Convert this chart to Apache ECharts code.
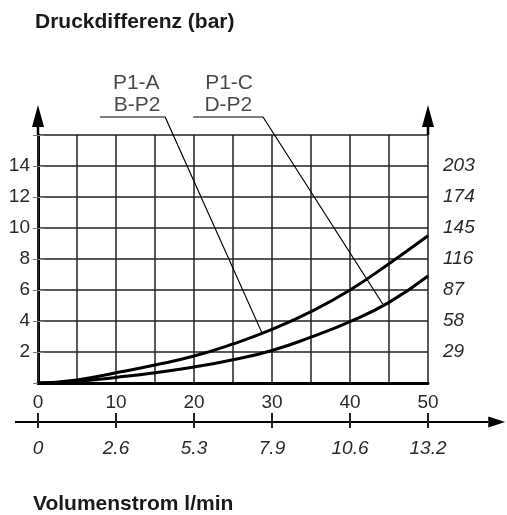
<!DOCTYPE html>
<html>
<head>
<meta charset="utf-8">
<script src="https://cdn.jsdelivr.net/npm/echarts@6/dist/echarts.min.js"></script>
<style>
  html, body { margin: 0; padding: 0; background: #fff; }
  #chart { width: 507px; height: 515px; }
</style>
</head>
<body>
<div id="chart"></div>
<script>
// flow in l/min on x, pressure difference in bar on y
const upperCurve = [[0, 0], [5, 0.2], [10, 0.66], [15, 1.16], [20, 1.74], [25, 2.52], [30, 3.46], [35, 4.6], [40, 6.0], [45, 7.7], [50, 9.5]]
const lowerCurve = [[0, 0], [5, 0.1], [10, 0.36], [15, 0.66], [20, 1.03], [25, 1.5], [30, 2.1], [35, 2.96], [40, 3.96], [45, 5.2], [50, 6.9]]

const barLabels = ['', '2', '4', '6', '8', '10', '12', '14', '']
const psiLabels = ['', '29', '58', '87', '116', '145', '174', '203', '']
const flowLabels = ['0', '10', '20', '30', '40', '50']
const galLabels = ['0', '2.6', '5.3', '7.9', '10.6', '13.2']

// leader lines from the labels down to the curves
const leaderA = [[7.95, 17.16], [16.3, 17.16], [28.7, 3.25]]
const leaderC = [[19.9, 17.16], [28.85, 17.16], [44.2, 5.1]]
const curveLabels = [
  { name: 'P1-A', value: [12.6, 19.35] },
  { name: 'B-P2', value: [12.7, 17.94] },
  { name: 'P1-C', value: [24.5, 19.35] },
  { name: 'D-P2', value: [24.4, 17.94] }
]

// axis arrows [x1, y1, x2, y2] in data units, arrow head at the second point
const axisArrows = [[0, 16, 0, 17.94], [50, 16, 50, 17.94], [-2.95, -2.52, 59.9, -2.52]]
// tick positions of the gallon scale, drawn on the lower (horizontal) arrow
const galTickX = [0, 10, 20, 30, 40, 50]

const font = 'Liberation Sans, Arial, sans-serif'
const ink = '#1a1a1a'

const chart = echarts.init(document.getElementById('chart'))

const renderArrow = (params, api) => {
  const y1 = api.value(1)
  const p1 = api.coord([api.value(0), y1])
  const p2 = api.coord([api.value(2), api.value(3)])
  const horizontal = Math.abs(p2[0] - p1[0]) > Math.abs(p2[1] - p1[1])
  const children = []
  if (horizontal) {
    const len = 17, half = 5.5, w = 2
    const bx = p2[0] - len
    children.push({ type: 'rect', shape: { x: p1[0], y: p1[1] - w / 2, width: bx - p1[0], height: w }, style: { fill: '#000' } })
    children.push({ type: 'polygon', shape: { points: [[p2[0], p2[1]], [bx, p2[1] - half], [bx, p2[1] + half]] }, style: { fill: '#000' } })
    galTickX.forEach(x => {
      const p = api.coord([x, y1])
      children.push({ type: 'rect', shape: { x: p[0] - 1, y: p[1] - 9, width: 2, height: 15 }, style: { fill: '#222' } })
    })
  } else {
    const len = 22, half = 6, w = 2.5
    const by = p2[1] + len
    children.push({ type: 'rect', shape: { x: p1[0] - w / 2, y: by, width: w, height: p1[1] - by }, style: { fill: '#000' } })
    children.push({ type: 'polygon', shape: { points: [[p2[0], p2[1]], [p2[0] - half, by], [p2[0] + half, by]] }, style: { fill: '#000' } })
  }
  return { type: 'group', children }
}

chart.setOption({
  animation: false,
  title: [
    { text: 'Druckdifferenz (bar)', left: 35, top: 12, padding: 0,
      textStyle: { fontFamily: font, fontSize: 21, fontWeight: 'bold', color: ink } },
    { text: 'Volumenstrom l/min', left: 33, top: 494, padding: 0,
      textStyle: { fontFamily: font, fontSize: 21, fontWeight: 'bold', color: ink } }
  ],
  grid: { left: 38, right: 79, top: 135, bottom: 132 },
  xAxis: [
    {
      type: 'value', min: 0, max: 50, interval: 5, position: 'bottom',
      axisLine: { show: true, lineStyle: { color: '#000', width: 3 } },
      axisTick: { show: false },
      splitLine: { show: true, lineStyle: { color: '#222', width: 1.5 } },
      axisLabel: {
        margin: 10, fontFamily: font, fontSize: 19, color: '#2a2a2a',
        formatter: v => (v % 10 === 0 ? flowLabels[v / 10] : '')
      }
    },
    {
      type: 'value', min: 0, max: 50, interval: 10, position: 'bottom', offset: 30,
      axisLine: { show: false },
      axisTick: { show: false },
      splitLine: { show: false },
      axisLabel: {
        margin: 26, fontFamily: font, fontSize: 19, fontStyle: 'italic', color: '#2a2a2a',
        formatter: v => galLabels[v / 10]
      }
    }
  ],
  yAxis: [
    {
      type: 'value', min: 0, max: 16, interval: 2, position: 'left',
      axisLine: { show: true, lineStyle: { color: '#000', width: 3 } },
      axisTick: { show: true, length: 5, lineStyle: { color: '#777', width: 1 } },
      splitLine: { show: true, lineStyle: { color: '#222', width: 1.5 } },
      axisLabel: {
        margin: 8, fontFamily: font, fontSize: 19, color: '#2a2a2a',
        formatter: v => barLabels[v / 2]
      }
    },
    {
      type: 'value', min: 0, max: 16, interval: 2, position: 'right',
      axisLine: { show: true, lineStyle: { color: '#222', width: 2 } },
      axisTick: { show: true, length: 6, lineStyle: { color: '#888', width: 1 } },
      splitLine: { show: false },
      axisLabel: {
        margin: 15, fontFamily: font, fontSize: 19, fontStyle: 'italic', color: '#2a2a2a',
        formatter: v => psiLabels[v / 2]
      }
    }
  ],
  series: [
    {
      name: 'P1-A B-P2', type: 'line', data: upperCurve, smooth: true, showSymbol: false,
      lineStyle: { color: '#000', width: 3 }
    },
    {
      name: 'P1-C D-P2', type: 'line', data: lowerCurve, smooth: true, showSymbol: false,
      lineStyle: { color: '#000', width: 3 }
    },
    {
      type: 'line', data: leaderA, showSymbol: false, clip: false,
      lineStyle: { color: '#000', width: 1.2 }
    },
    {
      type: 'line', data: leaderC, showSymbol: false, clip: false,
      lineStyle: { color: '#000', width: 1.2 }
    },
    {
      type: 'scatter', data: curveLabels, symbolSize: 0, clip: false,
      label: {
        show: true, position: 'inside', formatter: p => p.name,
        fontFamily: font, fontSize: 21, color: ink
      }
    },
    { type: 'custom', data: axisArrows, renderItem: renderArrow, clip: false, silent: true, z: 10 }
  ]
})
</script>
</body>
</html>
